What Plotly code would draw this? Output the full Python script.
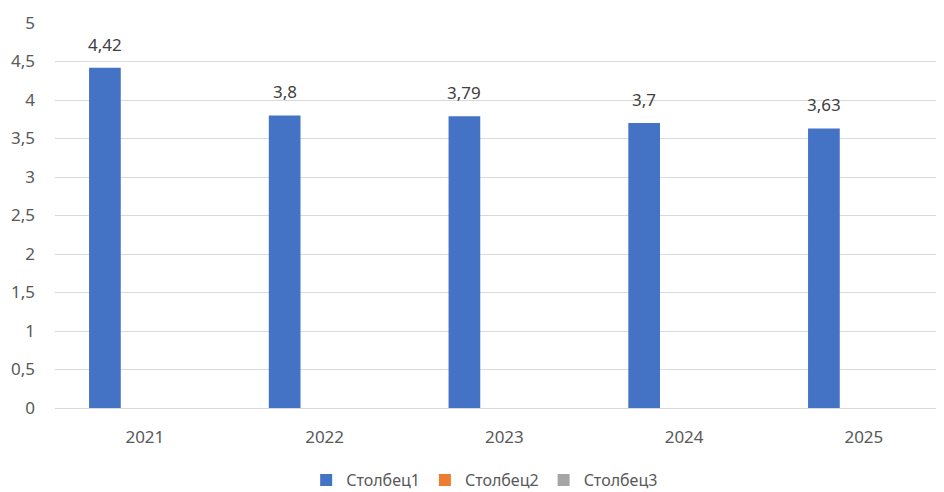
import plotly.graph_objects as go

categories = ["2021", "2022", "2023", "2024", "2025"]
series1 = [4.42, 3.8, 3.79, 3.7, 3.63]
series2 = [None, None, None, None, None]
series3 = [None, None, None, None, None]
labels1 = ["4,42", "3,8", "3,79", "3,7", "3,63"]
series_names = ["Столбец1", "Столбец2", "Столбец3"]
colors = ["#4472C4", "#ED7D31", "#A5A5A5"]
y_ticks = [0, 0.5, 1, 1.5, 2, 2.5, 3, 3.5, 4, 4.5, 5]
y_ticktext = ["0", "0,5", "1", "1,5", "2", "2,5", "3", "3,5", "4", "4,5", "5"]

FONT = "Noto Sans"
W, H = 944, 492
# page body has an 8px margin, compensate so the plot lands where the reference has it
ML, MR, MT, MB = 47, 0, 15, 92
cat_px = 179.75
plot_w = W - ML - MR

fig = go.Figure()
for name, vals, col in zip(series_names, [series1, series2, series3], colors):
    fig.add_trace(go.Bar(x=categories, y=vals, name=name, marker_color=col,
                         marker_line_width=0, showlegend=True))

for i, (v, t) in enumerate(zip(series1, labels1)):
    fig.add_annotation(x=i, y=v, text=t, showarrow=False, xref="x", yref="y",
                       xshift=-40, yshift=10, yanchor="bottom",
                       font=dict(family=FONT, size=17, color="#404040"))

fig.update_layout(
    width=W, height=H,
    margin=dict(l=ML, r=MR, t=MT, b=MB, pad=0, autoexpand=False),
    paper_bgcolor="white", plot_bgcolor="white",
    barmode="group", bargap=0.333, bargroupgap=0.207,
    font=dict(family=FONT, size=17, color="#595959"),
    legend=dict(orientation="h", x=0.479, xanchor="center", y=-0.187, yanchor="middle",
                font=dict(family=FONT, size=16, color="#595959"), itemwidth=30),
)
fig.update_xaxes(type="category", range=[-0.5, -0.5 + plot_w / cat_px],
                 showgrid=False, showline=True, linecolor="#d9d9d9", linewidth=1,
                 ticks="", ticklabelstandoff=14, tickfont=dict(size=17, color="#595959"),
                 fixedrange=True, automargin=False)
fig.update_yaxes(range=[0, 5], tickvals=y_ticks, ticktext=y_ticktext,
                 showgrid=True, gridcolor="#d9d9d9", gridwidth=1,
                 zeroline=False, showline=False, ticks="", ticklabelstandoff=19,
                 tickfont=dict(size=17, color="#595959"), fixedrange=True, automargin=False)

fig.write_html("out.html")
